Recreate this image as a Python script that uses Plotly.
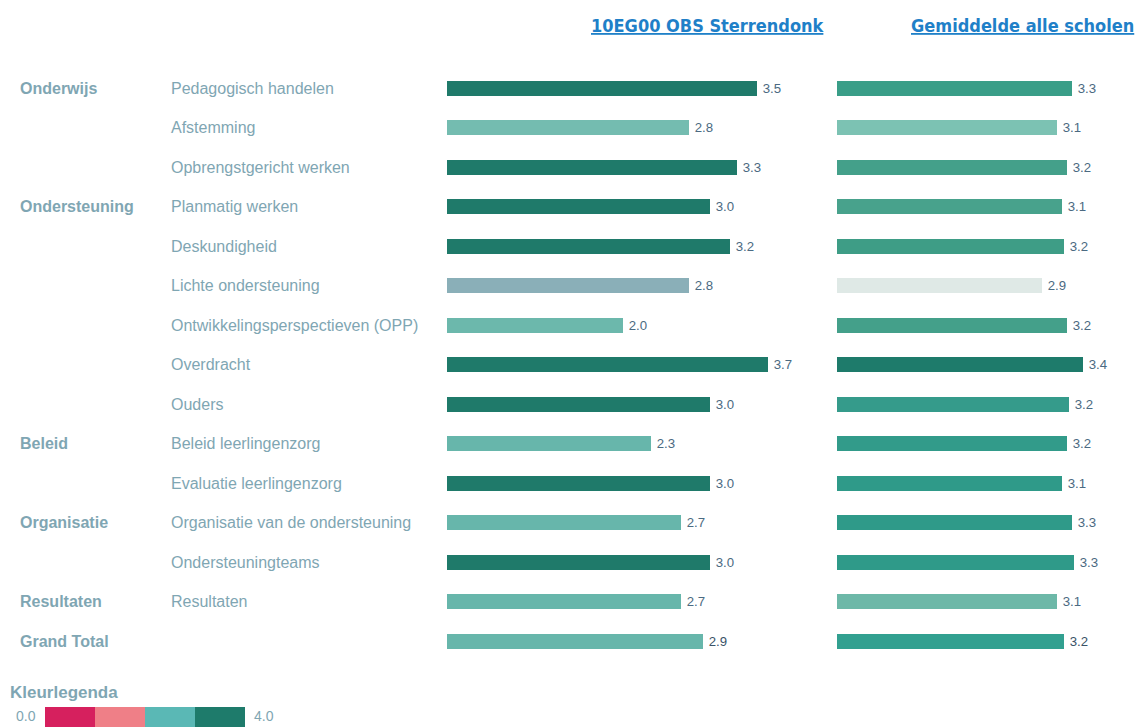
import plotly.graph_objects as go

# ---- data ----
groups = ["Onderwijs", "", "", "Ondersteuning", "", "", "", "", "", "Beleid", "",
          "Organisatie", "", "Resultaten", "Grand Total"]
items = ["Pedagogisch handelen", "Afstemming", "Opbrengstgericht werken", "Planmatig werken",
         "Deskundigheid", "Lichte ondersteuning", "Ontwikkelingsperspectieven (OPP)", "Overdracht",
         "Ouders", "Beleid leerlingenzorg", "Evaluatie leerlingenzorg",
         "Organisatie van de ondersteuning", "Ondersteuningteams", "Resultaten", ""]
school = [3.53, 2.76, 3.30, 3.00, 3.22, 2.76, 2.00, 3.66, 3.00, 2.33, 3.00, 2.67, 3.00, 2.67, 2.92]
average = [3.28, 3.08, 3.22, 3.14, 3.17, 2.87, 3.21, 3.44, 3.24, 3.22, 3.14, 3.29, 3.31, 3.08, 3.17]
header_school = "10EG00 OBS Sterrendonk"
header_avg = "Gemiddelde alle scholen"
legend_title = "Kleurlegenda"
legend_min, legend_max = "0.0", "4.0"

# ---- styles ----
school_colors = ["#1f7a6a", "#74bcb0", "#1f7a6a", "#1f7a6a", "#1f7a6a", "#8aafb8", "#6cb8ac",
                 "#1f7a6a", "#1f7a6a", "#67b6ab", "#1f7a6a", "#67b6ab", "#1f7a6a", "#67b6ab", "#67b6ab"]
avg_colors = ["#3a9e88", "#7cc2b3", "#44a08a", "#48a28c", "#3e9d86", "#dfe9e6", "#44a08a",
              "#1e7b6b", "#359b8b", "#329b8a", "#2f9a89", "#2f9a89", "#2f9a89", "#6db8a8", "#32a090"]
legend_colors = ["#d6205e", "#ef7f87", "#5ab8b5", "#1e7b6b"]

W, H = 1136, 727


def px(X):
    return X / W


def py(Y):
    return 1 - Y / H


row0, step = 88.5, 39.47
ypos = list(range(len(items)))
yr = [(H - row0) / step, -row0 / step]

label_col = "#7fa6b3"
val_col = "#4b6a82"
val_colors = [val_col] * (len(items) - 1) + ["#3a5368"]

fig = go.Figure()
fig.add_trace(go.Bar(
    x=school, y=ypos, orientation="h", marker=dict(color=school_colors, line=dict(width=0)),
    width=0.38, texttemplate="\u2009%{x:.1f}", textposition="outside", cliponaxis=False,
    textfont=dict(family="Liberation Sans", size=15, color=val_colors),
    xaxis="x", yaxis="y", hoverinfo="skip"))
fig.add_trace(go.Bar(
    x=average, y=ypos, orientation="h", marker=dict(color=avg_colors, line=dict(width=0)),
    width=0.38, texttemplate="\u2009%{x:.1f}", textposition="outside", cliponaxis=False,
    textfont=dict(family="Liberation Sans", size=15, color=val_colors),
    xaxis="x2", yaxis="y2", hoverinfo="skip"))

ax = dict(range=[0, 4], showgrid=False, zeroline=False, showticklabels=False, showline=False, fixedrange=True)
ay = dict(range=yr, showgrid=False, zeroline=False, showticklabels=False, showline=False, domain=[0, 1])
fig.update_layout(
    width=W, height=H, margin=dict(l=0, r=0, t=0, b=0),
    paper_bgcolor="white", plot_bgcolor="white", showlegend=False, bargap=0,
    xaxis=dict(domain=[px(447), px(798)], **ax),
    xaxis2=dict(domain=[px(837), px(1123)], **ax),
    yaxis=dict(anchor="x", **ay),
    yaxis2=dict(anchor="x2", **ay),
)

ann = []
for i, (g, it) in enumerate(zip(groups, items)):
    yy = py(row0 + i * step)
    if g:
        ann.append(dict(text=f"<b>{g}</b>", x=px(18), y=yy, xref="paper", yref="paper",
                        xanchor="left", yanchor="middle", showarrow=False,
                        font=dict(family="Liberation Sans", size=16, color=label_col)))
    if it:
        ann.append(dict(text=it, x=px(169), y=yy, xref="paper", yref="paper",
                        xanchor="left", yanchor="middle", showarrow=False,
                        font=dict(family="Liberation Sans", size=16, color=label_col)))

for txt, cx in [(header_school, 708), (header_avg, 1022)]:
    ann.append(dict(text=f"<u>{txt}</u>", x=px(cx), y=py(26), xref="paper", yref="paper",
                    xanchor="center", yanchor="middle", showarrow=False,
                    font=dict(family="DejaVu Sans Condensed", size=18, color="#1f80c8", weight=600)))

ann.append(dict(text=f"<b>{legend_title}</b>", x=px(8), y=py(692), xref="paper", yref="paper",
                xanchor="left", yanchor="middle", showarrow=False,
                font=dict(family="Liberation Sans", size=17, color=label_col)))
ann.append(dict(text=legend_min, x=px(14), y=py(716), xref="paper", yref="paper",
                xanchor="left", yanchor="middle", showarrow=False,
                font=dict(family="Liberation Sans", size=14, color=label_col)))
ann.append(dict(text=legend_max, x=px(252), y=py(716), xref="paper", yref="paper",
                xanchor="left", yanchor="middle", showarrow=False,
                font=dict(family="Liberation Sans", size=14, color=label_col)))

shapes = []
x0 = 45
for c in legend_colors:
    shapes.append(dict(type="rect", xref="paper", yref="paper", x0=px(x0), x1=px(x0 + 50),
                       y0=0, y1=py(707), fillcolor=c, line=dict(width=0)))
    x0 += 50

fig.update_layout(annotations=ann, shapes=shapes)
fig.write_html("out.html", config={"displayModeBar": False},
               post_script="document.body.style.margin='0';document.body.style.overflow='hidden';")
